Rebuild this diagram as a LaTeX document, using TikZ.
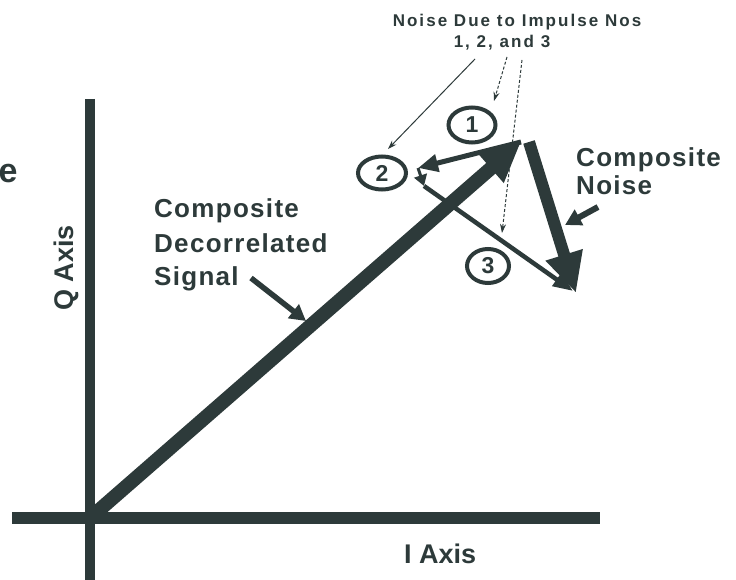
\documentclass[tikz,border=0pt]{standalone}
\usepackage{fontspec}
\setmainfont{Liberation Sans}
\newfontfamily\widefont[LetterSpace=5]{Liberation Sans}
\newfontfamily\trackfont[LetterSpace=12]{Liberation Sans}
\usetikzlibrary{arrows.meta,shapes.geometric}
\definecolor{ink}{RGB}{45,58,58}
\begin{document}
\begin{tikzpicture}[x=1pt,y=-1pt,
  bigtext/.style={text=ink, inner sep=0pt, font=\widefont\bfseries\fontsize{26}{28}\selectfont},
  axtext/.style={text=ink, inner sep=0pt, font=\bfseries\fontsize{27}{28}\selectfont},
  toptext/.style={text=ink, inner sep=0pt, font=\trackfont\bfseries\fontsize{17}{18}\selectfont},
  numring/.style={draw=ink, line width=4pt, ellipse, minimum width=#1, inner sep=0pt, text=ink, font=\bfseries\fontsize{23}{24}\selectfont},
  axisline/.style={draw=ink, line cap=butt},
  thinptr/.style={draw=ink, line width=1pt, -{Stealth[length=9pt,width=6pt]}},
  fatptr/.style={draw=ink, line width=6pt, -{Triangle[length=16pt,width=17pt]}}
]
\useasboundingbox (0,0) rectangle (736,580);
\fill[white] (0,0) rectangle (736,580);

% axes
\coordinate (O) at (90,518);
\coordinate (Qtop) at (90,99);
\coordinate (Qbot) at (90,582);
\coordinate (Ileft) at (12,518);
\coordinate (Iright) at (600,518);
\draw[axisline, line width=10pt] (Qtop) -- (Qbot);
\draw[axisline, line width=12pt] (Ileft) -- (Iright);

% vector points
\coordinate (S) at (521,142);
\coordinate (Sn) at (529,142);
\coordinate (P1) at (418,168);
\coordinate (P2) at (424,186);
\coordinate (N) at (576,293);
\coordinate (N3) at (573,291);

% signal vector
\draw[draw=ink, line width=14pt, -{Triangle[length=40pt,width=36pt]}] (O) -- (S);
% composite noise
\draw[draw=ink, line width=12pt, -{Triangle[length=40pt,width=36pt]}] (Sn) -- (N);
% impulse vectors
\draw[draw=ink, line width=5pt, -{Triangle[length=20pt,width=17pt]}] (S) -- (P1);
\draw[draw=ink, line width=3pt, -{Triangle[length=11pt,width=13pt]}] (P1) -- (P2);
\draw[draw=ink, line width=4.5pt, -{Triangle[length=20pt,width=15pt]}] (P2) -- (N3);

% rings
\node[numring=47pt, minimum height=35pt] (r1) at (472,125) {1};
\node[numring=48pt, minimum height=33pt] (r2) at (382,173) {2};
\node[numring=42pt, minimum height=34pt] (r3) at (488,266) {3};

% top label
\node[toptext, anchor=base] (t1) at (517,27) {Noise Due to Impulse Nos};
\node[toptext, anchor=base] (t2) at (502,48) {1, 2, and 3};
\coordinate (a1s) at (475,59);
\coordinate (a1e) at (388,149);
\coordinate (a2s) at (507,57);
\coordinate (a2e) at (494,101);
\coordinate (a3s) at (522,60);
\coordinate (a3e) at (502,233);
\draw[thinptr] (a1s) -- (a1e);
\draw[thinptr, densely dashed] (a2s) -- (a2e);
\draw[thinptr, densely dashed] (a3s) -- (a3e);

% composite noise label
\node[bigtext, anchor=base west] (cn1) at (576,167) {Composite};
\node[bigtext, anchor=base west] (cn2) at (576,195) {Noise};
\coordinate (cnp) at (598,207);
\coordinate (cnt) at (565,225);
\draw[fatptr] (cnp) -- (cnt);

% signal label
\node[bigtext, anchor=base west] (s1) at (154,218) {Composite};
\node[bigtext, anchor=base west] (s2) at (154,252) {Decorrelated};
\node[bigtext, anchor=base west] (s3) at (154,285) {Signal};
\coordinate (sp) at (251,278);
\coordinate (st) at (306,321);
\draw[fatptr, line width=5.5pt] (sp) -- (st);

% axis labels
\node[axtext, anchor=base west] (il) at (404,563) {I Axis};
\node[axtext, anchor=base, rotate=90] (ql) at (73,268) {Q Axis};
\node[text=ink, inner sep=0pt, anchor=base west, font=\bfseries\fontsize{34}{36}\selectfont] (ee) at (-1.5,183) {e};
\end{tikzpicture}
\end{document}
